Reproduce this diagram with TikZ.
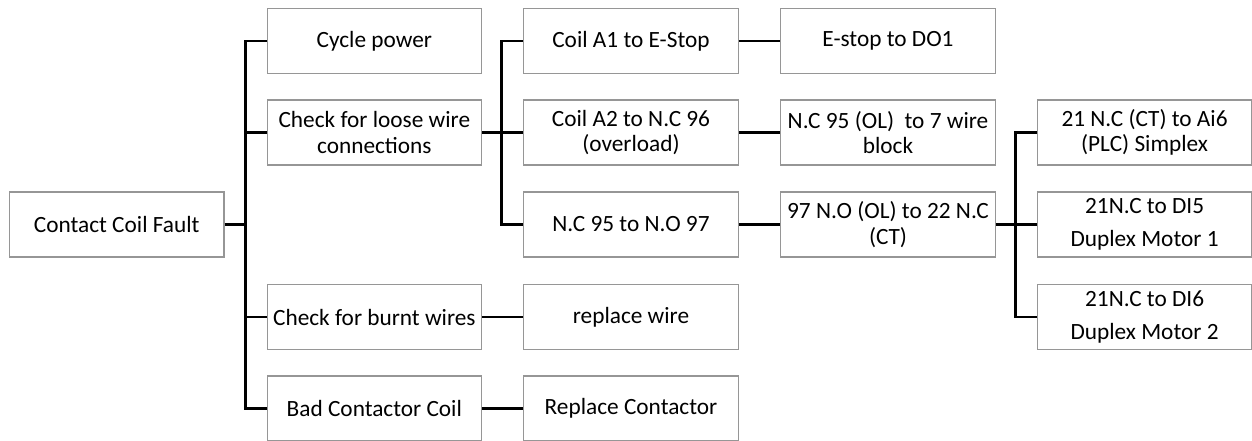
\documentclass[tikz,border=0pt]{standalone}
\usepackage{fontspec}
\setmainfont{Carlito}
\begin{document}
\begin{tikzpicture}[x=1pt,y=-1pt,
  box/.style={draw={rgb,255:red,150;green,150;blue,150}, line width=1.1pt, fill=white,
    minimum width=214.5pt, minimum height=65pt, inner sep=0pt, align=center,
    font=\fontsize{23.3}{25.5}\selectfont},
  conn/.style={line width=2.6pt, line cap=butt, line join=miter}]
\useasboundingbox (0,0) rectangle (1252,441);
% nodes
\node[box] (root) at (116.75,224.5) {Contact Coil Fault};
\node[box] (cyc)  at (374.35,41) {Cycle power};
\node[box] (loose) at (374.35,132.5) {Check for loose wire\\connections};
\node[box] (burnt) at (374.35,317) {Check for burnt wires};
\node[box] (bad)  at (374.35,408.5) {Bad Contactor Coil};
\node[box] (a1)   at (631,41) {Coil A1 to E-Stop};
\node[box] (a2)   at (631,132.5) {Coil A2 to N.C 96\\(overload)};
\node[box] (nc95) at (631,224.5) {N.C 95 to N.O 97};
\node[box] (rw)   at (631,317) {replace wire};
\node[box] (rc)   at (631,408.5) {Replace Contactor};
\node[box] (es)   at (888,41) {E-stop to DO1};
\node[box] (ol)   at (888,132.5) {N.C 95 (OL)\ \ to 7 wire\\block};
\node[box] (no97) at (888,224.5) {97 N.O (OL) to 22 N.C\\(CT)};
\node[box] (ai6)  at (1144.6,132.5) {21 N.C (CT) to Ai6\\(PLC) Simplex};
\node[box] (di5)  at (1144.6,224.5) {21N.C to DI5\\[8pt]Duplex Motor 1};
\node[box] (di6)  at (1144.6,317) {21N.C to DI6\\[8pt]Duplex Motor 2};
% junctions
\coordinate (j1) at (245.5,224.5);
\coordinate (j2) at (501.7,132.5);
\coordinate (j3) at (1015.7,224.5);
% connectors
\draw[conn] (root.east) -- (j1);
\draw[conn] (j1) |- (cyc.west);
\draw[conn] (j1) |- (loose.west);
\draw[conn] (j1) |- (burnt.west);
\draw[conn] (j1) |- (bad.west);
\draw[conn] (loose.east) -- (j2);
\draw[conn] (j2) |- (a1.west);
\draw[conn] (j2) |- (a2.west);
\draw[conn] (j2) |- (nc95.west);
\draw[conn] (burnt.east) -- (rw.west);
\draw[conn] (bad.east) -- (rc.west);
\draw[conn] (a1.east) -- (es.west);
\draw[conn] (a2.east) -- (ol.west);
\draw[conn] (nc95.east) -- (no97.west);
\draw[conn] (no97.east) -- (j3);
\draw[conn] (j3) |- (ai6.west);
\draw[conn] (j3) |- (di5.west);
\draw[conn] (j3) |- (di6.west);
\end{tikzpicture}
\end{document}
